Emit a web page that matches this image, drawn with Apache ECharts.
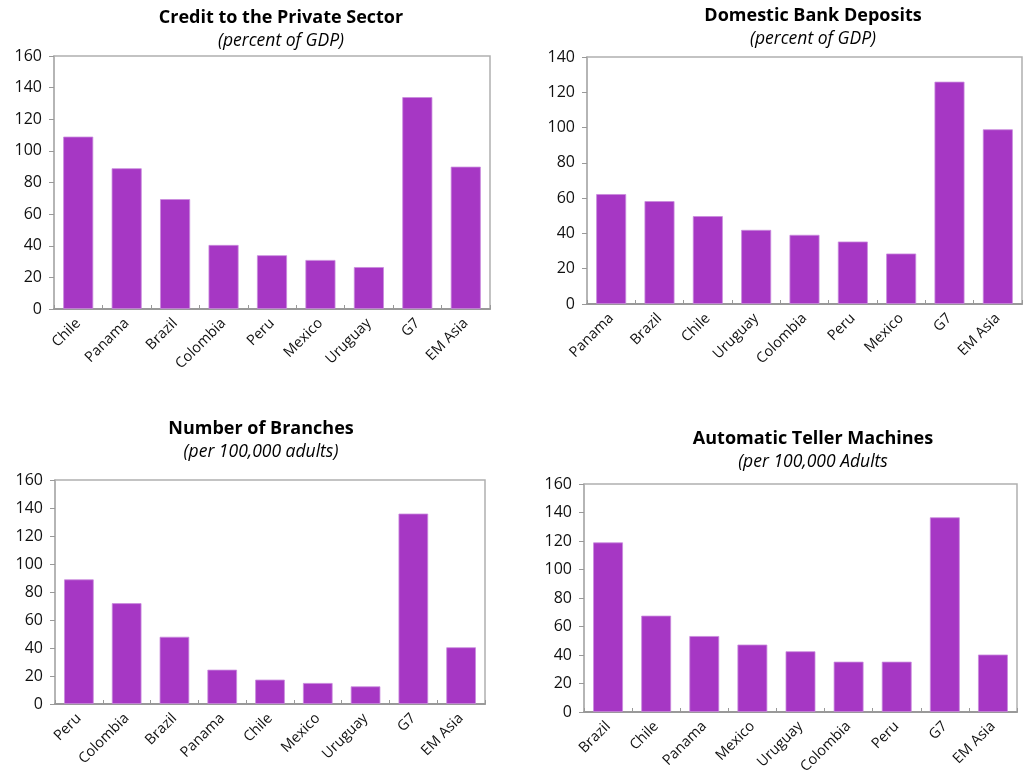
<!DOCTYPE html>
<html><head><meta charset="utf-8">
<script src="https://cdn.jsdelivr.net/npm/echarts@6/dist/echarts.min.js"></script>
<style>html,body{margin:0;padding:0;background:#fff}#c{width:1023px;height:780px}</style>
</head><body><div id="c"></div>
<script>
const titles = ["Credit to the Private Sector","Domestic Bank Deposits","Number of Branches","Automatic Teller Machines"];
const subtitles = ["(percent of GDP)","(percent of GDP)","(per 100,000 adults)","(per 100,000 Adults"];
const cats1 = ["Chile","Panama","Brazil","Colombia","Peru","Mexico","Uruguay","G7","EM Asia"];
const vals1 = [109,89,69.5,40.5,34,31,26.5,134,90];
const cats2 = ["Panama","Brazil","Chile","Uruguay","Colombia","Peru","Mexico","G7","EM Asia"];
const vals2 = [62.3,58.3,49.8,42,39.2,35.4,28.6,126,99];
const cats3 = ["Peru","Colombia","Brazil","Panama","Chile","Mexico","Uruguay","G7","EM Asia"];
const vals3 = [89,72,48,24.5,17.4,15,12.6,136,40.5];
const cats4 = ["Brazil","Chile","Panama","Mexico","Uruguay","Colombia","Peru","G7","EM Asia"];
const vals4 = [119,67.6,53.3,47.3,42.6,35.3,35.3,136.6,40.3];
const yMax = [160,140,160,160];
const yTicks = ["0","20","40","60","80","100","120","140","160"];

const cats = [cats1,cats2,cats3,cats4];
const vals = [vals1,vals2,vals3,vals4];
const grids = [
  {left:54, top:56, width:436, height:253},
  {left:587, top:57, width:435, height:247},
  {left:55, top:480, width:430, height:224},
  {left:584, top:484, width:433, height:228}
];
const titlePos = [
  {x:276, y:4},{x:808, y:2},{x:256, y:415},{x:808, y:425}
];
const FONT = "'Open Sans', sans-serif";
const chart = echarts.init(document.getElementById('c'), null, {renderer:'canvas'});
const option = {
  animation:false,
  title: titles.map((t,i)=>({
    text:t, subtext:subtitles[i], left:titlePos[i].x, top:titlePos[i].y, textAlign:'center', itemGap:5,
    textStyle:{fontFamily:FONT, fontWeight:'bold', fontSize:18, color:'#000'},
    subtextStyle:{fontFamily:FONT, fontStyle:'italic', fontSize:17.5, color:'#000'}
  })),
  grid: grids.map(g=>Object.assign({show:true, borderColor:'#b0b0b0', borderWidth:1.5, containLabel:false}, g)),
  xAxis: cats.map((c,i)=>({
    type:'category', gridIndex:i, data:c,
    axisLine:{lineStyle:{color:'#999', width:2}},
    axisTick:{show:true, inside:true, length:4, alignWithLabel:false, lineStyle:{color:'#999'}},
    axisLabel:{rotate:45, interval:0, fontFamily:FONT, fontSize:14.5, color:'#111', margin:12}
  })),
  yAxis: yMax.map((m,i)=>({
    type:'value', gridIndex:i, min:0, max:m, interval:20,
    splitLine:{show:false},
    axisLine:{show:true, lineStyle:{color:'#b0b0b0', width:1.5}},
    axisTick:{show:true, length:5, lineStyle:{color:'#999'}},
    axisLabel:{fontFamily:FONT, fontSize:16, color:'#111', margin:12,
      formatter:(v)=>yTicks[v/20]}
  })),
  series: vals.map((v,i)=>({
    type:'bar', xAxisIndex:i, yAxisIndex:i, data:v, barWidth:'62%',
    itemStyle:{color:'#A637C4', borderColor:'#C98BDD', borderWidth:0.8}
  }))
};
chart.setOption(option);
</script></body></html>
